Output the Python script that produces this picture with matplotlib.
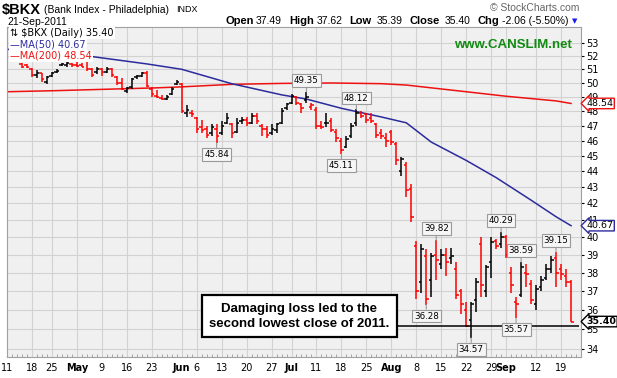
import matplotlib
matplotlib.use("Agg")
import matplotlib.pyplot as plt
import numpy as np
import pandas as pd

# session calendar for the x axis, one slot per trading day
holidays = ["2011-04-22", "2011-05-30", "2011-07-04", "2011-09-05"]
sessions = pd.bdate_range("2011-04-11", "2011-09-23")
sessions = sessions[~sessions.isin(pd.to_datetime(holidays))]
slot = {d.strftime("%Y-%m-%d"): i for i, d in enumerate(sessions)}

# daily OHLC of $BKX, first bar 14-Apr-2011, last bar 21-Sep-2011
first_bar = "2011-04-14"
opens = [51.4, 51.3, 51.0, 50.6, 50.7, 50.1, 50.5, 50.8, 51.3, 51.3,
         51.4, 51.3, 51.3, 51.6, 51.0, 50.8, 51.0, 50.8, 51.0, 50.4,
         50.0, 49.4, 49.7, 50.4, 50.5, 50.7, 49.6, 49.1, 48.9, 48.85,
         49.2, 49.9, 49.9, 47.9, 47.9, 47.5, 46.9, 46.8, 46.5, 46.8,
         46.5, 47.2, 47.1, 46.6, 47.3, 47.4, 47.2, 47.7, 47.0, 46.8,
         46.5, 46.7, 47.2, 48.2, 48.6, 49.0, 48.5, 48.8, 48.3, 48.1,
         47.0, 47.2, 47.3, 46.6, 46.0, 45.6, 46.3, 47.2, 47.9, 47.8,
         47.5, 47.1, 46.5, 46.2, 46.6, 45.8, 44.0, 44.4, 42.9, 39.5,
         37.5, 38.9, 37.6, 39.0, 38.5, 39.0, 38.8, 38.2, 37.0, 36.0,
         35.5, 36.5, 39.6, 37.0, 38.6, 39.8, 39.6, 40.0, 38.0, 36.4,
         36.8, 38.0, 37.4, 36.3, 37.2, 37.7, 38.2, 38.8, 38.2, 37.8,
         37.49]
highs = [51.45, 51.4, 51.1, 50.95, 50.75, 50.5, 50.8, 51.0, 51.5, 51.6,
         51.5, 51.6, 51.5, 51.7, 51.1, 51.2, 51.1, 51.2, 51.1, 50.5,
         50.35, 49.7, 50.35, 50.6, 50.8, 50.85, 49.7, 49.5, 49.15, 49.15,
         49.7, 50.2, 50.0, 48.4, 48.1, 47.6, 47.4, 47.0, 47.1, 47.1,
         47.3, 47.9, 47.2, 47.5, 47.6, 47.6, 47.9, 47.9, 47.1, 47.0,
         47.1, 47.2, 48.2, 48.6, 49.2, 49.1, 48.6, 49.35, 48.6, 48.3,
         47.3, 47.9, 47.5, 46.8, 46.2, 46.3, 47.2, 48.12, 48.0, 47.9,
         47.9, 47.2, 46.8, 46.5, 46.7, 45.9, 44.9, 44.6, 43.2, 39.8,
         39.6, 39.3, 39.1, 39.82, 39.3, 39.35, 39.4, 38.6, 37.1, 36.4,
         36.4, 37.7, 40.0, 38.4, 40.0, 39.9, 40.29, 40.1, 38.3, 36.7,
         38.59, 38.5, 37.6, 37.3, 37.8, 38.5, 38.9, 39.15, 38.5, 38.2,
         37.62]
lows = [51.1, 51.1, 50.45, 50.35, 50.1, 49.95, 50.4, 50.75, 51.25, 51.2,
        51.2, 51.2, 51.15, 50.9, 50.45, 50.65, 50.5, 50.7, 50.4, 49.85,
        49.5, 49.3, 49.6, 50.3, 50.45, 49.7, 49.0, 48.9, 48.75, 48.75,
        49.15, 49.85, 47.9, 47.6, 47.6, 46.5, 46.5, 46.2, 46.3, 45.84,
        46.4, 47.1, 46.2, 46.5, 47.1, 47.0, 47.1, 47.1, 46.3, 46.2,
        46.4, 46.5, 47.1, 48.1, 48.5, 48.4, 47.9, 48.6, 48.1, 46.8,
        46.8, 46.9, 46.6, 45.9, 45.11, 45.5, 46.2, 47.0, 47.5, 47.2,
        47.2, 46.2, 46.1, 45.6, 45.7, 44.4, 43.7, 42.4, 40.9, 36.6,
        36.9, 36.28, 36.7, 37.6, 38.2, 37.8, 38.5, 36.6, 35.8, 35.1,
        34.57, 35.9, 36.7, 36.7, 37.7, 39.3, 39.4, 38.8, 36.9, 35.57,
        36.7, 37.2, 36.3, 36.0, 37.0, 37.6, 38.0, 37.2, 37.6, 37.2,
        35.39]
closes = [51.2, 51.15, 50.6, 50.7, 50.3, 50.4, 50.7, 50.9, 51.4, 51.5,
          51.3, 51.25, 51.2, 51.0, 50.6, 51.0, 50.8, 51.0, 50.6, 50.0,
          49.6, 49.65, 50.3, 50.5, 50.7, 49.8, 49.2, 49.0, 48.85, 49.0,
          49.6, 50.1, 48.0, 48.1, 47.8, 46.8, 46.7, 46.4, 46.9, 46.3,
          47.0, 47.5, 46.5, 47.2, 47.4, 47.2, 47.7, 47.3, 46.8, 46.4,
          46.8, 47.1, 48.0, 48.5, 49.1, 48.6, 48.2, 49.0, 48.4, 47.0,
          46.9, 47.2, 46.7, 46.2, 45.4, 46.1, 47.0, 47.9, 47.7, 47.4,
          47.3, 46.4, 46.3, 46.0, 45.9, 44.7, 44.8, 42.8, 41.2, 37.0,
          39.3, 36.6, 38.9, 38.7, 39.0, 38.6, 38.9, 36.8, 36.3, 35.17,
          36.3, 37.5, 37.3, 38.3, 39.7, 39.5, 40.0, 39.0, 37.3, 36.3,
          38.3, 37.9, 36.5, 37.1, 37.6, 38.2, 38.7, 38.0, 37.9, 37.46,
          35.40]

# moving averages
ma50_days = ["2011-04-11", "2011-05-04", "2011-05-10", "2011-05-20", "2011-06-01",
             "2011-06-15", "2011-06-29", "2011-07-07", "2011-07-18", "2011-07-28",
             "2011-08-04", "2011-08-11", "2011-08-22", "2011-08-30", "2011-09-09",
             "2011-09-16", "2011-09-21"]
ma50_vals = [52.5, 52.0, 51.8, 51.4, 51.0, 49.95, 49.15, 48.85, 48.2, 47.6,
             47.2, 45.9, 44.7, 43.6, 42.2, 41.2, 40.67]
ma200_days = ["2011-04-11", "2011-04-26", "2011-05-10", "2011-05-24", "2011-06-01",
              "2011-06-15", "2011-06-29", "2011-07-14", "2011-07-28", "2011-08-04",
              "2011-08-18", "2011-09-01", "2011-09-16", "2011-09-21"]
ma200_vals = [49.37, 49.45, 49.55, 49.65, 49.72, 49.9, 49.97, 50.0, 49.95, 49.85,
              49.45, 49.05, 48.72, 48.54]

tick_days = ["2011-04-11", "2011-04-18", "2011-04-25", "2011-05-02", "2011-05-09",
             "2011-05-16", "2011-05-23", "2011-06-01", "2011-06-06", "2011-06-13",
             "2011-06-20", "2011-06-27", "2011-07-01", "2011-07-11", "2011-07-18",
             "2011-07-25", "2011-08-01", "2011-08-08", "2011-08-15", "2011-08-22",
             "2011-08-29", "2011-09-01", "2011-09-12", "2011-09-19"]
tick_labels = ["11", "18", "25", "May", "9", "16", "23", "Jun", "6", "13", "20", "27",
               "Jul", "11", "18", "25", "Aug", "8", "15", "22", "29", "Sep", "12", "19"]
months = ["May", "Jun", "Jul", "Aug", "Sep"]

# swing highs / lows that carry a price label
callout_days = ["2011-07-07", "2011-07-21", "2011-06-10", "2011-07-18", "2011-08-12",
                "2011-08-10", "2011-08-31", "2011-09-07", "2011-08-23", "2011-09-06",
                "2011-09-16"]
callout_side = ["high", "high", "low", "low", "high", "low", "high", "high", "low",
                "low", "high"]

note = "Damaging loss led to the\nsecond lowest close of 2011."

# ---------------------------------------------------------------------------
W, H = 617, 378
fig = plt.figure(figsize=(W / 100, H / 100), dpi=100)
ax = fig.add_axes([7 / W, 21 / H, 574 / W, 330 / H])
ax.set_facecolor("#f0f0f0")

x = np.arange(len(closes)) + slot[first_bar]
o, hi, lo, c = map(np.array, (opens, highs, lows, closes))
prev = np.concatenate([[o[0]], c[:-1]])
cols = np.where(c < prev, "#ff0000", "#000000")

ax.vlines(x, lo, hi, colors=cols, lw=1.1, zorder=3)
ax.hlines(o, x - 0.5, x, colors=cols, lw=1.1, zorder=3)
ax.hlines(c, x, x + 0.5, colors=cols, lw=1.1, zorder=3)

ax.plot([slot[d] for d in ma200_days], ma200_vals, color="#ee1111", lw=1.1, zorder=2)
ax.plot([slot[d] for d in ma50_days], ma50_vals, color="#2b2b9e", lw=1.1, zorder=2)

ax.set_yscale("log")
ax.set_ylim(33.63, 54.22)
ax.set_xlim(0, 114.9)

yt = list(range(34, 54))
ax.yaxis.tick_right()
ax.set_yticks(yt)
ax.set_yticklabels([str(v) for v in yt])
ax.yaxis.set_minor_locator(matplotlib.ticker.NullLocator())
ax.tick_params(axis="y", length=2, pad=2, labelsize=7, colors="#000000")

xt = [slot[d] for d in tick_days]
ax.set_xticks(xt)
ax.set_xticklabels(tick_labels)
for lab in ax.get_xticklabels():
    if lab.get_text() in months:
        lab.set_fontweight("bold")
ax.set_xticks(np.arange(len(sessions)), minor=True)
ax.tick_params(axis="x", which="major", length=0, pad=4, labelsize=7)
ax.tick_params(axis="x", which="minor", length=2, direction="in", color="#999999")

ax.grid(True, which="major", color="#d2d2d2", lw=0.8, zorder=0)
ax.set_axisbelow(True)
for s in ax.spines.values():
    s.set_color("#a0a0a0")
    s.set_linewidth(0.8)

# lowest close reference line and note
low_close = min(closes)
ax.hlines(low_close, slot["2011-07-29"], 114.6, color="black", lw=1.1, zorder=4)
ax.text(0.509, 0.124, note, transform=ax.transAxes, ha="center", va="center",
        fontsize=9.5, fontweight="bold", family="Liberation Sans", linespacing=1.35,
        zorder=6, bbox=dict(boxstyle="square,pad=0.55", fc="white", ec="black", lw=1.6))

# price labels at swing points
for d, side in zip(callout_days, callout_side):
    i = slot[d] - slot[first_bar]
    val = highs[i] if side == "high" else lows[i]
    dy = 5 if side == "high" else -5
    ax.annotate(f"{val:.2f}", xy=(slot[d], val), xytext=(0, dy), textcoords="offset points",
                ha="center", va="bottom" if side == "high" else "top", fontsize=6.3,
                zorder=5,
                bbox=dict(boxstyle="square,pad=0.22", fc="#f6f6f6", ec="#9a9a9a", lw=0.8),
                arrowprops=dict(arrowstyle="-", color="#9a9a9a", lw=0.8, shrinkA=0, shrinkB=0))

# value tags on the price axis
for val, col, bold in [(ma200_vals[-1], "#ee1111", False), (ma50_vals[-1], "#2b2b9e", False),
                       (closes[-1], "#000000", True)]:
    ax.annotate(f"{val:.2f}", xy=(1, val), xycoords=("axes fraction", "data"),
                xytext=(4, 0), textcoords="offset points", ha="left", va="center",
                fontsize=6.8, fontweight="bold" if bold else "normal", annotation_clip=False,
                zorder=6,
                bbox=dict(boxstyle="larrow,pad=0.08", fc="white", ec=col, lw=1))

# legend block in the top left corner
ax.text(0.006, 0.996, "\u21c5 $BKX (Daily) " + f"{closes[-1]:.2f}", transform=ax.transAxes,
        ha="left", va="top", fontsize=7, color="black", zorder=6,
        bbox=dict(boxstyle="square,pad=0.1", fc="white", ec="none"))
ax.text(0.006, 0.962, "\u2014MA(50) " + f"{ma50_vals[-1]:.2f}", transform=ax.transAxes,
        ha="left", va="top", fontsize=7, color="#2b2b9e", zorder=6,
        bbox=dict(boxstyle="square,pad=0.1", fc="white", ec="none"))
ax.text(0.006, 0.928, "\u2014MA(200) " + f"{ma200_vals[-1]:.2f}", transform=ax.transAxes,
        ha="left", va="top", fontsize=7, color="#ee1111", zorder=6,
        bbox=dict(boxstyle="square,pad=0.1", fc="white", ec="none"))

ax.text(0.985, 0.945, "www.CANSLIM.net", transform=ax.transAxes, ha="right", va="center",
        fontsize=9.5, fontweight="bold", color="#128a12", family="Liberation Sans")


# header
def px(xp, yp):
    return xp / W, 1 - yp / H


hf = "Liberation Sans"
fig.text(*px(2, 10), "$BKX", fontsize=10.5, fontweight="bold", va="center", family=hf)
fig.text(*px(44, 10), "(Bank Index - Philadelphia)", fontsize=7.5, va="center", family=hf)
fig.text(*px(176, 10), "INDX", fontsize=6.5, va="center", family=hf)
fig.text(*px(7, 22), "21-Sep-2011", fontsize=7.5, va="center", family=hf)
fig.text(*px(579, 8), "\u00a9 StockCharts.com", fontsize=7.5, va="center", ha="right",
         color="#666666", family=hf)

header = [("Open", True, 225), ("37.49", False, 256), ("High", True, 289),
          ("37.62", False, 317), ("Low", True, 349), ("35.39", False, 377),
          ("Close", True, 410), ("35.40", False, 445), ("Chg", True, 478),
          ("-2.06 (-5.50%)", False, 502)]
for s, b, xp in header:
    fig.text(*px(xp, 21), s, fontsize=8 if b else 7.5, fontweight="bold" if b else "normal",
             va="center", family=hf)
fig.text(*px(575, 21), "\u25bc", fontsize=5, va="center", ha="center", color="#1a1aee")

fig.savefig("out.png", dpi=100)
